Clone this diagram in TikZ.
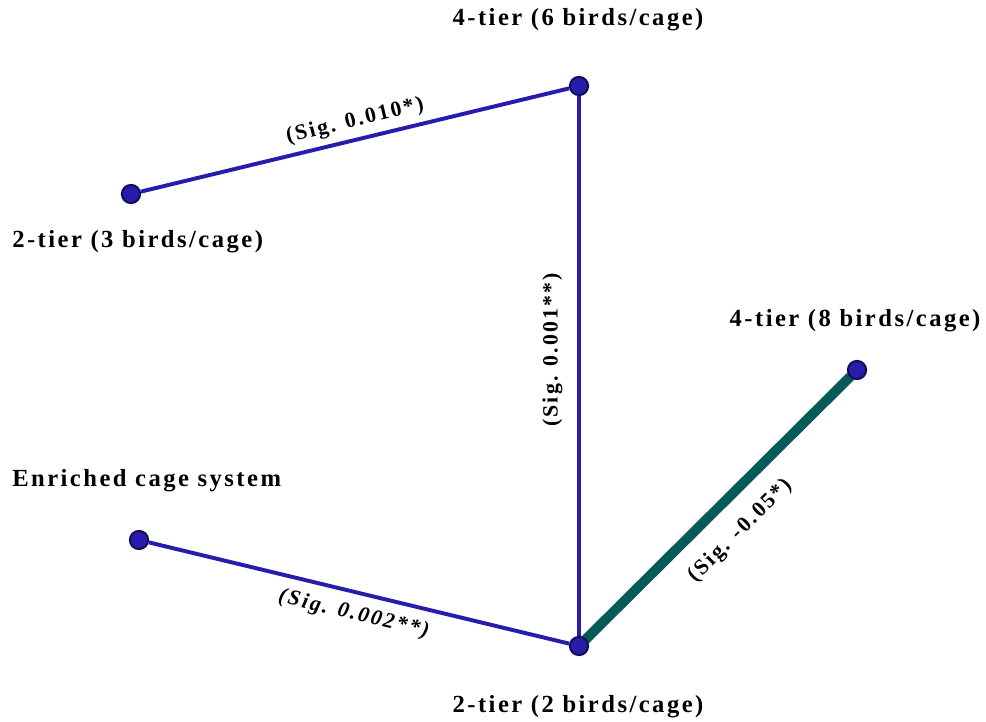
\documentclass[tikz,border=0pt]{standalone}
\usepackage{fontspec}
\setmainfont{Liberation Serif}
\newfontfamily\lblfont[LetterSpace=10]{Liberation Serif}
\usetikzlibrary{positioning,backgrounds}
\definecolor{edgeblue}{RGB}{40,28,172}
\definecolor{edgeteal}{RGB}{8,90,88}
\definecolor{dotnavy}{RGB}{16,14,80}

\begin{document}
\begin{tikzpicture}[
  x=0.025cm, y=-0.025cm,
  font=\lblfont\bfseries\fontsize{17.5}{21}\selectfont,
  vtx/.style={circle, draw=dotnavy, line width=1.4pt, fill=edgeblue, minimum size=13pt, inner sep=0pt},
  tierlbl/.style={inner sep=0pt},
  link/.style={edgeblue, line width=2.8pt},
  thicklink/.style={edgeteal, line width=7pt},
  siglbl/.style={pos=0.5, sloped, text=black, font=\lblfont\bfseries\fontsize{15.5}{18}\selectfont}
]
\useasboundingbox (0,0) rectangle (986,722);

% vertices
\node[vtx] (twothree) at (131,194) {};
\node[vtx] (foursix) at (579,86) {};
\node[vtx] (foureight) at (857,370) {};
\node[vtx] (enriched) at (139,540) {};
\node[vtx] (twotwo) at (579,646) {};

% vertex labels
\node[tierlbl] (lfoursix) at (578,20) {4-tier (6 birds/cage)};
\node[tierlbl, anchor=west] (ltwothree) at (12,242) {2-tier (3 birds/cage)};
\node[tierlbl] (lfoureight) at (855,321) {4-tier (8 birds/cage)};
\node[tierlbl, anchor=west] (lenriched) at (12,481) {Enriched cage system};
\node[tierlbl] (ltwotwo) at (578,707) {2-tier (2 birds/cage)};

% links
\begin{scope}[on background layer]
\draw[thicklink] (twotwo.center) -- node[siglbl, below=9pt] {(Sig. -0.05*)} (foureight.center);
\draw[link] (twothree) -- node[siglbl, pos=0.51, above=1pt] {(Sig. 0.010*)} (foursix);
\draw[link] (twotwo) -- node[siglbl, pos=0.53, above=7pt] {(Sig. 0.001**)} (foursix);
\draw[link] (enriched) -- node[siglbl, below=4pt] {\itshape(Sig. 0.002**)} (twotwo);
\end{scope}
\end{tikzpicture}
\end{document}
